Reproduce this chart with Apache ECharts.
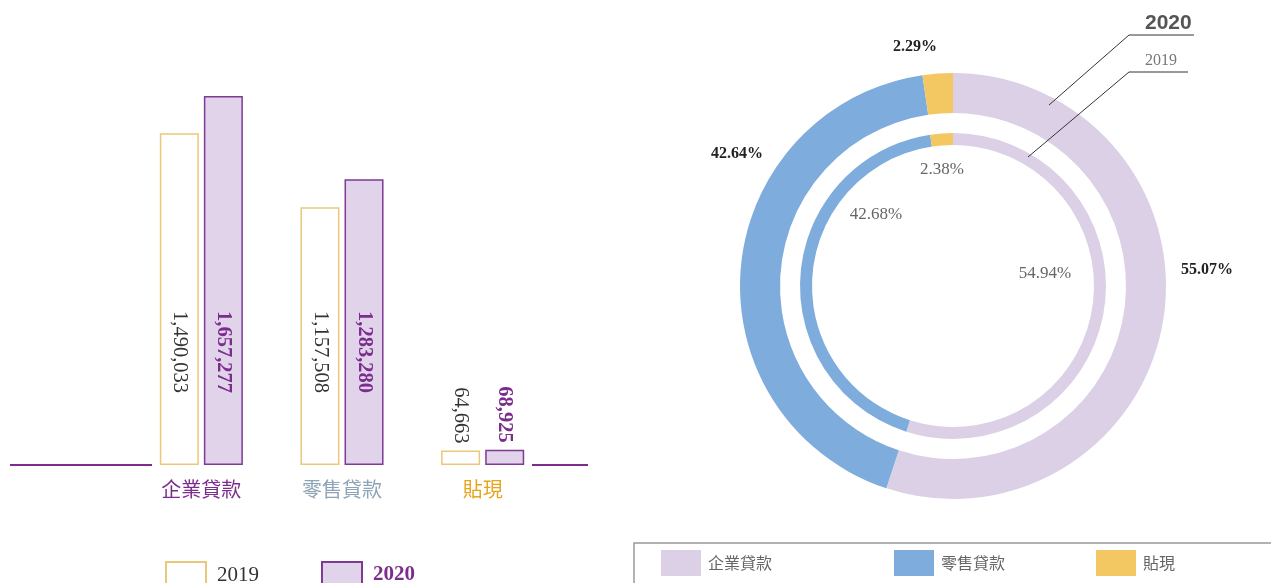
<!DOCTYPE html>
<html>
<head>
<meta charset="utf-8">
<style>
  html, body { margin: 0; padding: 0; background: #fff; }
  #main { width: 1271px; height: 583px; }
</style>
<script src="https://cdn.jsdelivr.net/npm/echarts@6/dist/echarts.min.js"></script>
</head>
<body>
<div id="main"></div>
<script>
// 貸款結構 2019 / 2020
var categories = ['企業貸款', '零售貸款', '貼現'];
var years = ['2019', '2020'];
var loans2019 = [1490033, 1157508, 64663];
var loans2020 = [1657277, 1283280, 68925];

var catColors = ['#7b2c8c', '#8fa3b6', '#e6a51c'];
var pieColors = ['#dcd0e6', '#7eacdc', '#f3c862'];
var serif = '"Liberation Serif", "DejaVu Serif", "Noto Sans CJK TC", serif';
var cjk = '"Noto Sans CJK TC", "Liberation Serif", serif';

var chart = echarts.init(document.getElementById('main'));

function barLabel(v, color, bold) {
    var small = v < 200000;
    return {
        value: v,
        label: {
            show: true,
            position: small ? 'top' : 'insideBottom',
            distance: small ? 7 : 72,
            rotate: -90,
            align: 'right',
            verticalAlign: 'middle',
            color: color,
            fontWeight: bold ? 'bold' : 'normal',
            fontFamily: serif,
            fontSize: 20.5,
            formatter: function (p) { return p.value.toLocaleString('en-US'); }
        }
    };
}

var cx = 953, cy = 286;
var outerOffsets = [[254, -16], [-216, -132], [-38, -239]];
var innerOffsets = [[92, -12], [-77, -71], [-11, -116]];

function pieData(vals) {
    return vals.map(function (v, i) {
        return { name: categories[i], value: v, itemStyle: { color: pieColors[i] } };
    });
}

function placeLabel(offsets) {
    return function (p) {
        var o = offsets[p.dataIndex];
        return { x: cx + o[0], y: cy + o[1], align: 'center', verticalAlign: 'middle' };
    };
}

var option = {
    animation: false,
    grid: { left: 131, width: 422, top: 96, bottom: 118 },
    xAxis: {
        type: 'category',
        data: categories.map(function (c, i) {
            return { value: c, textStyle: { color: catColors[i] } };
        }),
        axisLine: { show: false },
        axisTick: { show: false },
        axisLabel: { fontFamily: cjk, fontSize: 20, margin: 14 }
    },
    yAxis: {
        type: 'value', min: 0, max: 'dataMax',
        show: false, splitLine: { show: false }
    },
    legend: [{
        left: 160, top: 556,
        icon: 'rect',
        itemWidth: 40, itemHeight: 26, itemGap: 62,
        data: [
            { name: '2019', textStyle: { color: '#333', fontWeight: 'normal' } },
            { name: '2020', textStyle: { color: '#7b2c8c', fontWeight: 'bold' } }
        ],
        textStyle: { fontFamily: serif, fontSize: 21, padding: [0, 0, 0, 6] }
    }].concat(categories.map(function (c, i) {
        return {
            left: [656, 889, 1091][i], top: 545,
            icon: 'rect',
            itemWidth: 40, itemHeight: 26,
            data: [c],
            textStyle: { fontFamily: cjk, fontSize: 16, color: '#666', padding: [0, 0, 0, 2] }
        };
    })),
    series: [
        {
            name: years[0], type: 'bar', barWidth: 39, barGap: '13%',
            itemStyle: { color: '#fff', borderColor: '#e9c979', borderWidth: 1.5 },
            data: loans2019.map(function (v) { return barLabel(v, '#333', false); })
        },
        {
            name: years[1], type: 'bar', barWidth: 39,
            itemStyle: { color: '#e0d3ea', borderColor: '#7e3a94', borderWidth: 1.5 },
            data: loans2020.map(function (v) { return barLabel(v, '#7b2c8c', true); })
        },
        {
            name: '2020 結構', type: 'pie', center: [cx, cy], radius: [173, 213],
            startAngle: 90, clockwise: true,
            label: {
                show: true, position: 'inside', formatter: '{d}%',
                fontFamily: serif, fontSize: 16, fontWeight: 'bold', color: '#222'
            },
            labelLine: { show: false },
            labelLayout: placeLabel(outerOffsets),
            emphasis: { disabled: true },
            data: pieData(loans2020)
        },
        {
            name: '2019 結構', type: 'pie', center: [cx, cy], radius: [141, 153],
            startAngle: 90, clockwise: true,
            label: {
                show: true, position: 'inside', formatter: '{d}%',
                fontFamily: serif, fontSize: 17, color: '#666'
            },
            labelLine: { show: false },
            labelLayout: placeLabel(innerOffsets),
            emphasis: { disabled: true },
            data: pieData(loans2019)
        }
    ],
    graphic: [
        // purple baseline pieces either side of the bars
        { type: 'line', shape: { x1: 10, y1: 465, x2: 152, y2: 465 }, style: { stroke: '#7b2c8c', lineWidth: 2 } },
        { type: 'line', shape: { x1: 532, y1: 465, x2: 588, y2: 465 }, style: { stroke: '#7b2c8c', lineWidth: 2 } },
        // ring callouts
        { type: 'polyline', z: 100, shape: { points: [[1049, 105], [1129, 35], [1194, 35]] }, style: { stroke: '#333', lineWidth: 1, fill: null } },
        { type: 'text', z: 100, left: 1145, top: 13, style: { text: '2020', font: 'bold 21px "Liberation Sans", Arial, sans-serif', fill: '#555' } },
        { type: 'polyline', z: 100, shape: { points: [[1028, 157], [1129, 72], [1188, 72]] }, style: { stroke: '#333', lineWidth: 1, fill: null } },
        { type: 'text', z: 100, left: 1145, top: 53, style: { text: '2019', font: '16px "Liberation Serif", serif', fill: '#777' } },
        // pie legend frame
        { type: 'rect', shape: { x: 634, y: 543, width: 700, height: 100 }, style: { stroke: '#999', lineWidth: 1.5, fill: null }, z: -1 }
    ]
};

chart.setOption(option);
</script>
</body>
</html>
